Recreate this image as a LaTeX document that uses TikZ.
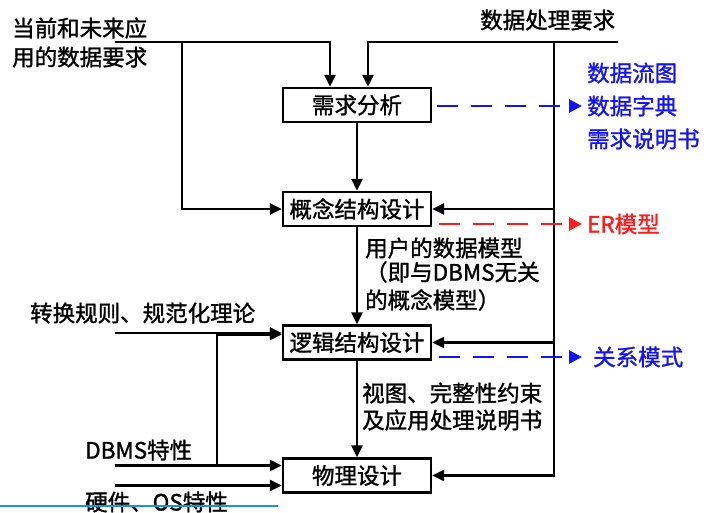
\documentclass[tikz,border=0pt]{standalone}
\usepackage{fontspec}
\setmainfont{Noto Sans CJK SC}[FakeBold=1.3]
\usetikzlibrary{arrows.meta}
\definecolor{myblue}{RGB}{20,20,240}
\definecolor{myred}{RGB}{250,30,30}
\definecolor{mycyan}{RGB}{20,150,215}
\tikzset{
  box/.style={draw=black, line width=2.4pt, fill=white, minimum width=148pt, minimum height=34pt, inner sep=0pt, font=\fontsize{22.5}{25}\selectfont},
  lbl/.style={anchor=west, inner sep=0pt, font=\fontsize{22.5}{29}\selectfont},
  conn/.style={line width=2.4pt, -{Triangle[length=12pt,width=11pt]}},
  dashblue/.style={line width=2.8pt, myblue, dash pattern=on 21pt off 13pt, -{Triangle[length=13pt,width=13pt]}},
  dashred/.style={line width=2.8pt, myred, dash pattern=on 21pt off 13pt, -{Triangle[length=13pt,width=13pt]}},
}
\begin{document}
\begin{tikzpicture}[x=1pt,y=-1pt]
\useasboundingbox (0,0) rectangle (710,512);
\fill[white] (0,0) rectangle (710,512);

% boxes
\node[box] (req) at (357,105) {需求分析};
\node[box] (con) at (357,209) {概念结构设计};
\node[box] (log) at (357,342.5) {逻辑结构设计};
\node[box] (phy) at (357,475.5) {物理设计};

% texts
\node[lbl, align=left] (cur) at (12,42.5) {当前和未来应\\用的数据要求};
\node[lbl] (proc) at (480,20) {数据处理要求};
\node[lbl, myblue] (dfd) at (587,73) {数据流图};
\node[lbl, myblue] (dd) at (587,106) {数据字典};
\node[lbl, myblue] (rs) at (587,139) {需求说明书};
\node[lbl, myred] (er) at (587,224) {ER模型};
\node[lbl, myblue] (rel) at (593,357) {关系模式};
\node[lbl] (um1) at (365,248) {用户的数据模型};
\node[lbl] (um2) at (365,272) {（即与DBMS无关};
\node[lbl] (um3) at (365,300) {的概念模型）};
\node[lbl] (vw1) at (362,393) {视图、完整性约束};
\node[lbl] (vw2) at (362,420) {及应用处理说明书};
\node[lbl] (rule) at (30,313) {转换规则、规范化理论};
\node[lbl] (dbms) at (85,450) {DBMS特性};
\node[lbl] (hw) at (85,502) {硬件、OS特性};

% coordinates
\coordinate (tl) at (115,42);
\coordinate (tlb) at (182,42);
\coordinate (tr) at (618,42);
\coordinate (rv) at (554,42);
\coordinate (rc) at (554,209);
\coordinate (rl) at (554,342.5);
\coordinate (rule0) at (115,333);
\coordinate (dbms0) at (115,465.5);
\coordinate (dbmsb) at (217,465.5);
\coordinate (hw0) at (115,485.5);
\coordinate (reqd) at (582,106);
\coordinate (cond) at (582,224);
\coordinate (logd) at (582,357);
\coordinate (cy0) at (0,506);
\coordinate (cy1) at (278,506);

% connectors
\draw[conn] (tl) -| ([xshift=-27pt]req.north);
\draw[conn] (tlb) |- (con.west);
\draw[conn] (tr) -| ([xshift=11pt]req.north);
\draw[conn] (rv) |- (phy.east);
\draw[conn] (rc) -- (con.east);
\draw[conn] (rl) -- (log.east);
\draw[conn] (req.south) -- (con.north);
\draw[conn] (con.south) -- (log.north);
\draw[conn] (log.south) -- (phy.north);
\draw[conn] (rule0) -- (rule0 -| log.west);
\draw[conn] (dbmsb) |- ([yshift=8pt]log.west);
\draw[conn] (dbms0) -- (dbms0 -| phy.west);
\draw[conn] (hw0) -- (hw0 -| phy.west);

% dashed outputs
\draw[dashblue] (req.east |- reqd) ++(5pt,0) -- (reqd);
\draw[dashred] (con.east |- cond) ++(7pt,0) -- (cond);
\draw[dashblue] (log.east |- logd) ++(7pt,0) -- (logd);

% bottom bar
\draw[mycyan, line width=2pt] (cy0) -- (cy1);
\end{tikzpicture}
\end{document}
